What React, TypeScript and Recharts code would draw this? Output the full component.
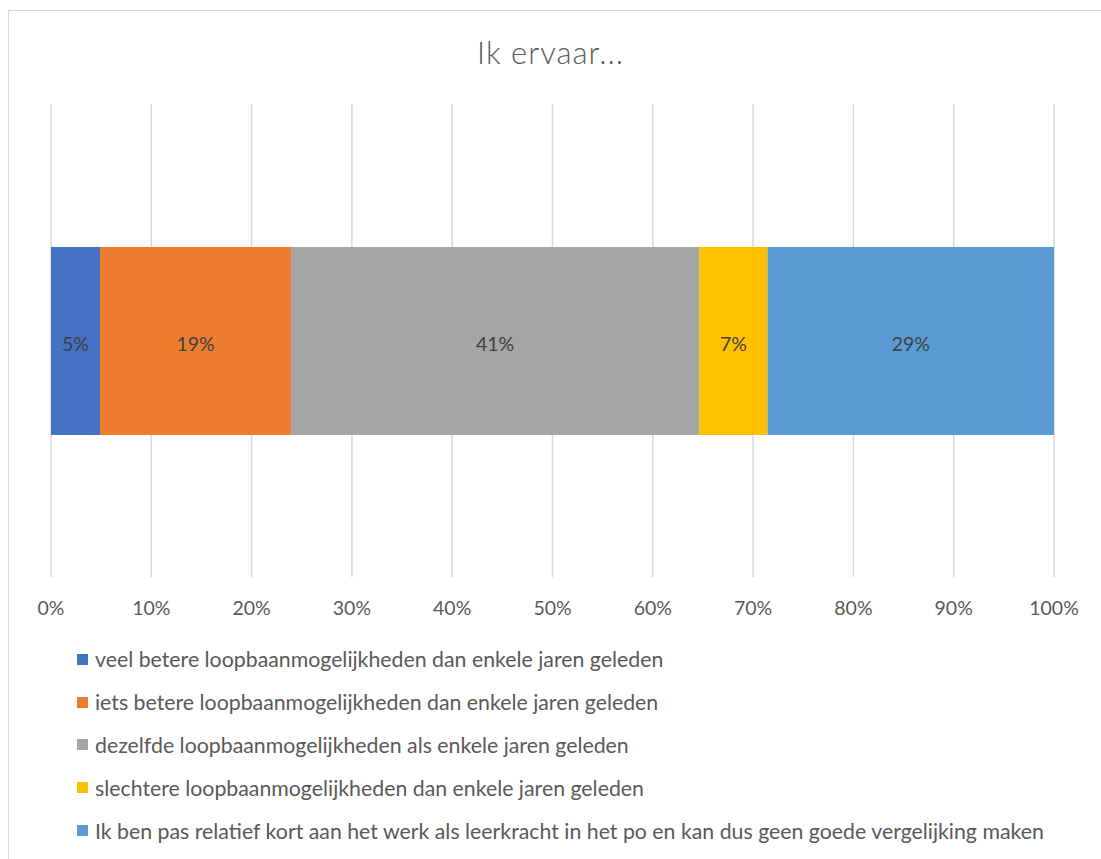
import { Bar, BarChart, CartesianGrid, LabelList, XAxis, YAxis } from 'recharts';

const seriesNames = [
  'veel betere loopbaanmogelijkheden dan enkele jaren geleden',
  'iets betere loopbaanmogelijkheden dan enkele jaren geleden',
  'dezelfde loopbaanmogelijkheden als enkele jaren geleden',
  'slechtere loopbaanmogelijkheden dan enkele jaren geleden',
  'Ik ben pas relatief kort aan het werk als leerkracht in het po en kan dus geen goede vergelijking maken',
];
const seriesValues = [4.89, 19.04, 40.7, 6.81, 28.56];
const seriesColors = ['#4472C4', '#ED7D31', '#A5A5A5', '#FFC000', '#5B9BD5'];
const xTicks = [0, 10, 20, 30, 40, 50, 60, 70, 80, 90, 100];

const FONT = 'Lato, "Open Sans", sans-serif';

// one row holding every share
const row: Record<string, number | string> = { name: 'Ik ervaar' };
seriesValues.forEach((v, i) => {
  row[`s${i}`] = v;
});
const data = [row];

export default function App() {
  return (
    <div
      style={{
        position: 'absolute',
        left: 0,
        top: 0,
        width: 1101,
        height: 859,
        background: '#fff',
        overflow: 'hidden',
        fontFamily: FONT,
      }}
    >
      {/* chart frame, runs off the right and bottom edge */}
      <div
        style={{
          position: 'absolute',
          left: 8,
          top: 10,
          width: 1200,
          height: 1000,
          border: '1.5px solid #d9d9d9',
          boxSizing: 'border-box',
        }}
      />
      <div
        style={{
          position: 'absolute',
          left: 0,
          top: 33,
          width: 1101,
          textAlign: 'center',
          fontSize: 31,
          letterSpacing: 1,
          color: '#595959',
          fontFamily: FONT,
          fontWeight: 300,
        }}
      >
        Ik ervaar...
      </div>
      <div style={{ position: 'absolute', left: 0, top: 0 }}>
        <BarChart
          width={1101}
          height={640}
          data={data}
          layout="vertical"
          margin={{ top: 104, right: 47, bottom: 23, left: 51 }}
          barSize={188}
        >
          <CartesianGrid stroke="#d9d9d9" strokeWidth={1.5} horizontal={false} />
          <XAxis
            type="number"
            domain={[0, 100]}
            ticks={xTicks}
            tickFormatter={(v) => `${v}%`}
            axisLine={false}
            tickLine={false}
            tickSize={0}
            tickMargin={24}
            height={40}
            tick={{ fontSize: 19.5, fill: '#595959', fontFamily: FONT }}
            interval={0}
          />
          <YAxis type="category" dataKey="name" hide />
          {seriesNames.map((name, i) => (
            <Bar
              key={name}
              dataKey={`s${i}`}
              name={name}
              stackId="a"
              fill={seriesColors[i]}
              isAnimationActive={false}
            >
              <LabelList
                dataKey={`s${i}`}
                position="center"
                formatter={(v: any) => `${Math.round(Number(v))}%`}
                style={{ fontSize: 19.5, fill: '#404040', fontFamily: FONT, transform: 'translateY(3px)' }}
              />
            </Bar>
          ))}
        </BarChart>
      </div>
      <div style={{ position: 'absolute', left: 77, top: 638 }}>
        {seriesNames.map((name, i) => (
          <div
            key={name}
            style={{ display: 'flex', alignItems: 'center', height: 42.8, whiteSpace: 'nowrap' }}
          >
            <span
              style={{ width: 11, height: 11, background: seriesColors[i], marginRight: 7, flex: 'none' }}
            />
            <span style={{ fontSize: 21.3, color: '#595959', fontFamily: FONT }}>{name}</span>
          </div>
        ))}
      </div>
    </div>
  );
}
